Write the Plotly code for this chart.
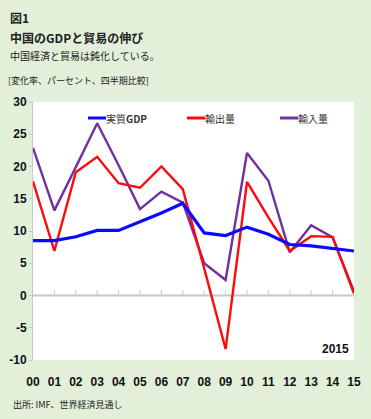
import plotly.graph_objects as go

years = ["00", "01", "02", "03", "04", "05", "06", "07", "08", "09", "10", "11", "12", "13", "14", "15"]
gdp = [8.5, 8.5, 9.1, 10.1, 10.1, 11.4, 12.8, 14.3, 9.7, 9.3, 10.6, 9.5, 7.9, 7.7, 7.3, 6.9]
exports = [17.7, 6.9, 19.1, 21.5, 17.4, 16.7, 20.0, 16.5, 4.2, -8.3, 17.6, 12.1, 6.9, 9.2, 9.1, 0.3]
imports = [22.9, 13.2, 19.9, 26.7, 20.2, 13.4, 16.1, 14.4, 5.0, 2.4, 22.1, 17.8, 6.7, 10.9, 9.0, 0.6]
series_names = ["実質GDP", "輸出量", "輸入量"]
colors = ["#0a0aff", "#ff0a0a", "#7030a0"]
widths = [3.2, 2.4, 2.4]
yticks = [-10, -5, 0, 5, 10, 15, 20, 25, 30]

JP = "Noto Sans CJK JP"
NUM = "Liberation Sans Narrow, Liberation Sans, Arial"
BG = "#e2efd9"

L, R, T, B = 33, 17, 102, 59
PW, PH = 371 - L - R, 419 - T - B

xs = list(range(len(years)))
fig = go.Figure()
for name, vals, c, w in reversed(list(zip(series_names, [gdp, exports, imports], colors, widths))):
    fig.add_trace(go.Scatter(x=xs, y=vals, name=name, mode="lines",
                             line=dict(color=c, width=w), showlegend=False))

shapes = []
shapes.append(dict(type="line", xref="paper", yref="y", x0=0, x1=1, y0=0, y1=0,
                   line=dict(color="#c8c8c8", width=2), layer="below"))
for i in xs[1:-1]:
    shapes.append(dict(type="line", xref="x", yref="y", xsizemode="scaled", ysizemode="pixel",
                       yanchor=0, x0=i, x1=i, y0=0, y1=5, line=dict(color="#c8c8c8", width=1),
                       layer="below"))

def px_x(px):
    return (px - L) / PW

def px_y(py):
    return (419 - B - py) / PH

leg_x = [88, 187, 280]
annotations = []
for lx, name, c in zip(leg_x, series_names, colors):
    shapes.append(dict(type="line", xref="paper", yref="paper", x0=px_x(lx), x1=px_x(lx + 18),
                       y0=px_y(118), y1=px_y(118), line=dict(color=c, width=3)))
    annotations.append(dict(xref="paper", yref="paper", x=px_x(lx + 16), y=px_y(118),
                            xanchor="left", yanchor="middle", showarrow=False,
                            text=name.replace("GDP", "<b>GDP</b>"),
                            font=dict(family=JP, size=10, color="#333")))

annotations.append(dict(xref="paper", yref="paper", x=px_x(351), y=px_y(349),
                        xanchor="right", yanchor="middle", text="<b>2015</b>", showarrow=False,
                        font=dict(family=NUM, size=12, color="#111")))

def top_text(px, py, text, size, bold=False, color="#222"):
    return dict(xref="paper", yref="paper", x=px_x(px), y=px_y(py),
                xanchor="left", yanchor="middle", showarrow=False,
                text=("<b>%s</b>" % text) if bold else text,
                font=dict(family=JP, size=size, color=color))

annotations += [
    top_text(8, 17, "図1", 12, True),
    top_text(8, 37, "中国のGDPと貿易の伸び", 12, True),
    top_text(8, 56, "中国経済と貿易は鈍化している。", 10),
    top_text(6, 80, "[変化率、パーセント、四半期比較]", 9),
    top_text(11, 404, "出所: IMF、世界経済見通し", 9),
]

fig.update_layout(
    width=371, height=419,
    margin=dict(l=L, r=R, t=T, b=B, autoexpand=False),
    paper_bgcolor=BG, plot_bgcolor="white",
    shapes=shapes, annotations=annotations,
    xaxis=dict(range=[0, 15], tickvals=xs, ticktext=["<b>%s</b>" % y for y in years],
               showgrid=False, zeroline=False, showline=False, ticks="", automargin=False,
               ticklabelstandoff=13,
               tickfont=dict(family=NUM, size=12, color="#111")),
    yaxis=dict(range=[-10, 30], tickvals=yticks, ticktext=["<b>%d</b>" % v for v in yticks],
               showgrid=False, zeroline=False, showline=True, linecolor="#c8c8c8", linewidth=1,
               ticks="outside", ticklen=3, tickcolor="#c8c8c8", automargin=False,
               tickfont=dict(family=NUM, size=12, color="#111")),
)
fig.write_html("out.html", config={"displayModeBar": False},
               post_script="document.body.style.margin='0';document.body.style.overflow='hidden';")
